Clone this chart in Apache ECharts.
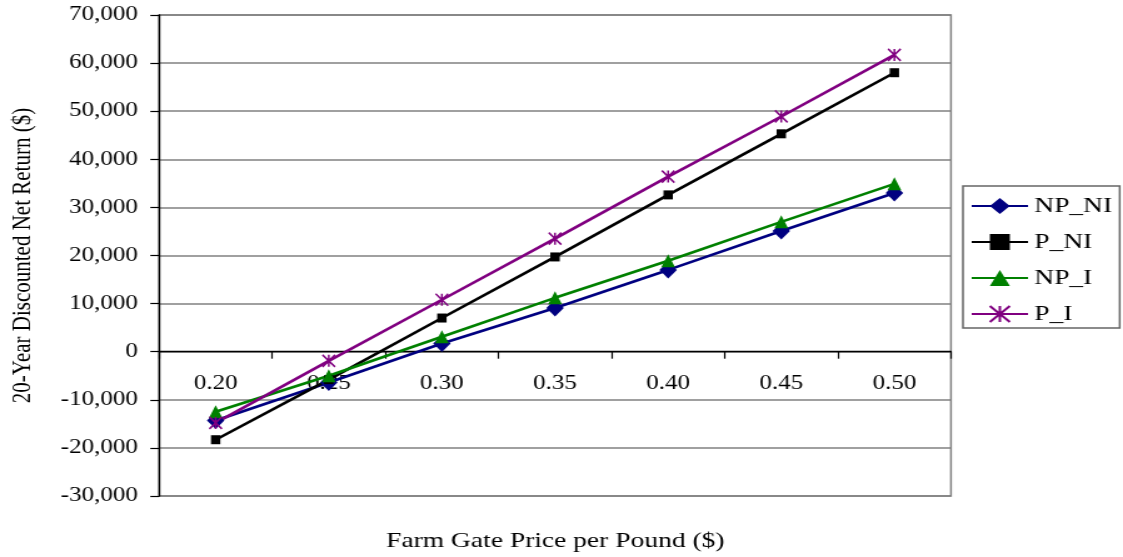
<!DOCTYPE html>
<html>
<head>
<meta charset="utf-8">
<script src="https://cdn.jsdelivr.net/npm/echarts@6/dist/echarts.min.js"></script>
<style>
  html, body { margin: 0; padding: 0; background: #fff; overflow: hidden; }
  /* the chart is laid out narrower and widened horizontally, giving the broad serif lettering */
  #chart { width: 898px; height: 557px; transform: scaleX(1.2506); transform-origin: 0 0; }
</style>
</head>
<body>
<div id="chart"></div>
<script>
const categories = ['0.20', '0.25', '0.30', '0.35', '0.40', '0.45', '0.50'];
const npNi = [-14300, -6400, 1700, 9100, 17000, 25100, 33000];
const pNi  = [-18300, -5800, 7000, 19700, 32600, 45300, 58000];
const npI  = [-12500, -5000, 3100, 11200, 18900, 27000, 34900];
const pI   = [-14800, -1900, 10800, 23500, 36400, 48900, 61700];
const seriesNames = ['NP_NI', 'P_NI', 'NP_I', 'P_I'];
const yTicks = { min: -30000, max: 70000, step: 10000 };

const FONT = '"Liberation Serif", "Times New Roman", serif';
const asterisk = 'path://M0,0L10,10M10,0L0,10M5,0L5,10';

// plot box (px, in the unscaled layout)
const GRID = { left: 127.2, right: 137.6, top: 15, bottom: 61 };
const plotHeight = 557 - GRID.top - GRID.bottom;
// lift the category axis from the bottom edge up to the zero line
const zeroLift = plotHeight * (0 - yTicks.min) / (yTicks.max - yTicks.min);

function lineSeries(name, data, color, symbol, size) {
  return {
    name: name,
    type: 'line',
    data: data,
    symbol: symbol,
    symbolSize: size,
    showSymbol: true,
    lineStyle: { color: color, width: 2.6 },
    itemStyle: { color: color, borderColor: color, borderWidth: symbol === asterisk ? 1.6 : 0 },
    emphasis: { disabled: true },
    animation: false
  };
}

const chart = echarts.init(document.getElementById('chart'));
chart.setOption({
  backgroundColor: '#ffffff',
  animation: false,
  grid: {
    left: GRID.left, right: GRID.right, top: GRID.top, bottom: GRID.bottom,
    show: true, borderColor: '#808080', borderWidth: 1.5, backgroundColor: 'transparent'
  },
  xAxis: {
    type: 'category',
    data: categories,
    boundaryGap: true,
    position: 'bottom',
    offset: -zeroLift,
    axisLine: { onZero: false, lineStyle: { color: '#000', width: 1.4 } },
    axisTick: { show: true, inside: false, length: 7, lineStyle: { color: '#000', width: 1.2 } },
    axisLabel: { color: '#000', fontFamily: FONT, fontSize: 20, margin: 22 },
    splitLine: { show: false }
  },
  yAxis: {
    type: 'value',
    min: yTicks.min, max: yTicks.max, interval: yTicks.step,
    name: '20-Year Discounted Net Return ($)',
    nameLocation: 'middle',
    nameRotate: 90,
    nameGap: 98,
    nameTextStyle: { color: '#000', fontFamily: FONT, fontSize: 21 },
    axisLine: { show: true, onZero: false, lineStyle: { color: '#000', width: 1.4 } },
    axisTick: { show: true, inside: false, length: 7, lineStyle: { color: '#000', width: 1.2 } },
    axisLabel: {
      color: '#000', fontFamily: FONT, fontSize: 20, margin: 17,
      formatter: v => v.toLocaleString('en-US')
    },
    splitLine: { show: true, lineStyle: { color: '#808080', width: 1.5 } }
  },
  legend: {
    data: seriesNames,
    orient: 'vertical',
    left: 770, top: 186,
    padding: [9, 6, 3, 6],
    itemGap: 14,
    itemWidth: 45,
    itemHeight: 20,
    borderColor: '#666',
    borderWidth: 1.5,
    backgroundColor: '#fff',
    textStyle: { color: '#000', fontFamily: FONT, fontSize: 22, lineHeight: 22 },
    selectedMode: false
  },
  graphic: [{
    type: 'text',
    x: 444,
    y: 541,
    style: {
      text: 'Farm Gate Price per Pound ($)',
      font: '22px ' + FONT,
      fill: '#000',
      textAlign: 'center',
      textVerticalAlign: 'middle'
    }
  }],
  series: [
    lineSeries('NP_NI', npNi, '#000080', 'diamond', [14, 17]),
    lineSeries('P_NI', pNi, '#000000', 'rect', [7.5, 9]),
    lineSeries('NP_I', npI, '#008000', 'triangle', [11, 13]),
    lineSeries('P_I', pI, '#800080', asterisk, [10, 12])
  ]
});
</script>
</body>
</html>
